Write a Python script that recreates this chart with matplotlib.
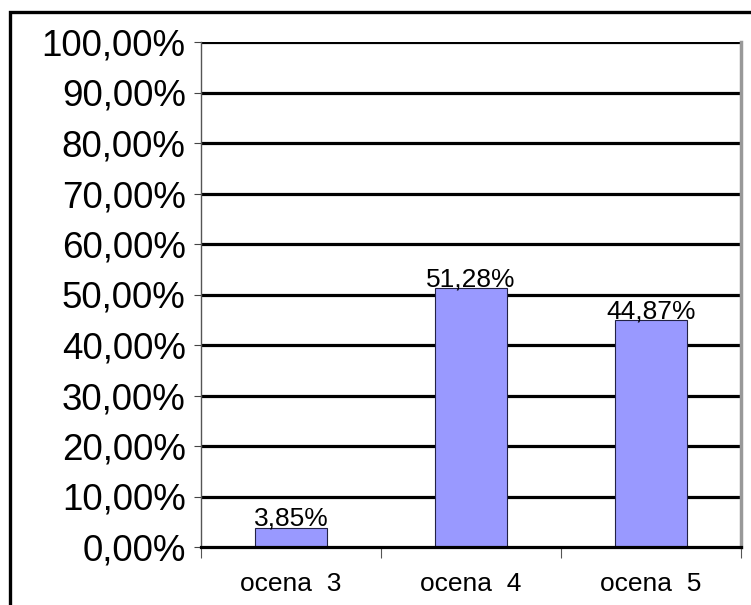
import matplotlib.pyplot as plt
import matplotlib.patches as patches
import numpy as np

categories = ["ocena  3", "ocena  4", "ocena  5"]
values = [3.85, 51.28, 44.87]
labels = ["3,85%", "51,28%", "44,87%"]
yticks = [0, 10, 20, 30, 40, 50, 60, 70, 80, 90, 100]
ytick_labels = ["0,00%", "10,00%", "20,00%", "30,00%", "40,00%", "50,00%",
                "60,00%", "70,00%", "80,00%", "90,00%", "100,00%"]


def main():
    plt.rcParams["font.family"] = ["Liberation Sans", "DejaVu Sans"]

    fig = plt.figure(figsize=(7.51, 6.05), dpi=100)
    ax = fig.add_axes([201 / 751, 1 - 547 / 605, 540 / 751, 505 / 605])

    # outer chart border (only top and left edges are visible)
    fig.patches.append(patches.Rectangle((10 / 751, -0.1), 1.2, 1.1 - 12 / 605,
                                         transform=fig.transFigure, fill=False,
                                         edgecolor="black", linewidth=2.4))

    x = np.arange(len(categories))
    ax.set_xlim(-0.5, len(categories) - 0.5)
    ax.set_ylim(0, 100)

    for y in yticks[1:]:
        ax.axhline(y, color="black", linewidth=2.3, zorder=1)

    ax.bar(x, values, width=0.4, color="#9999FF", edgecolor="#222244",
           linewidth=0.8, zorder=2)
    for xi, v, lab in zip(x, values, labels):
        ax.text(xi, v + 0.4, lab, ha="center", va="baseline", fontsize=19, zorder=3)

    ax.set_yticks(yticks)
    ax.set_yticklabels(ytick_labels, fontsize=26.5)
    ax.tick_params(axis="y", length=5, width=0.8, color="#444444", pad=6)

    ax.set_xticks(x)
    ax.set_xticklabels(categories, fontsize=19)
    ax.set_xticks(np.arange(-0.5, len(categories) + 0.5, 1), minor=True)
    ax.tick_params(axis="x", which="major", length=0, pad=18)
    ax.tick_params(axis="x", which="minor", length=8, width=0.8, color="#555555")

    ax.spines["bottom"].set_linewidth(2.3)
    ax.spines["bottom"].set_color("black")
    ax.spines["left"].set_linewidth(1.0)
    ax.spines["left"].set_color("#555555")
    ax.spines["right"].set_linewidth(2.5)
    ax.spines["right"].set_color("#999999")
    ax.spines["top"].set_visible(False)

    plt.savefig("out.png", dpi=100)


if __name__ == "__main__":
    main()
